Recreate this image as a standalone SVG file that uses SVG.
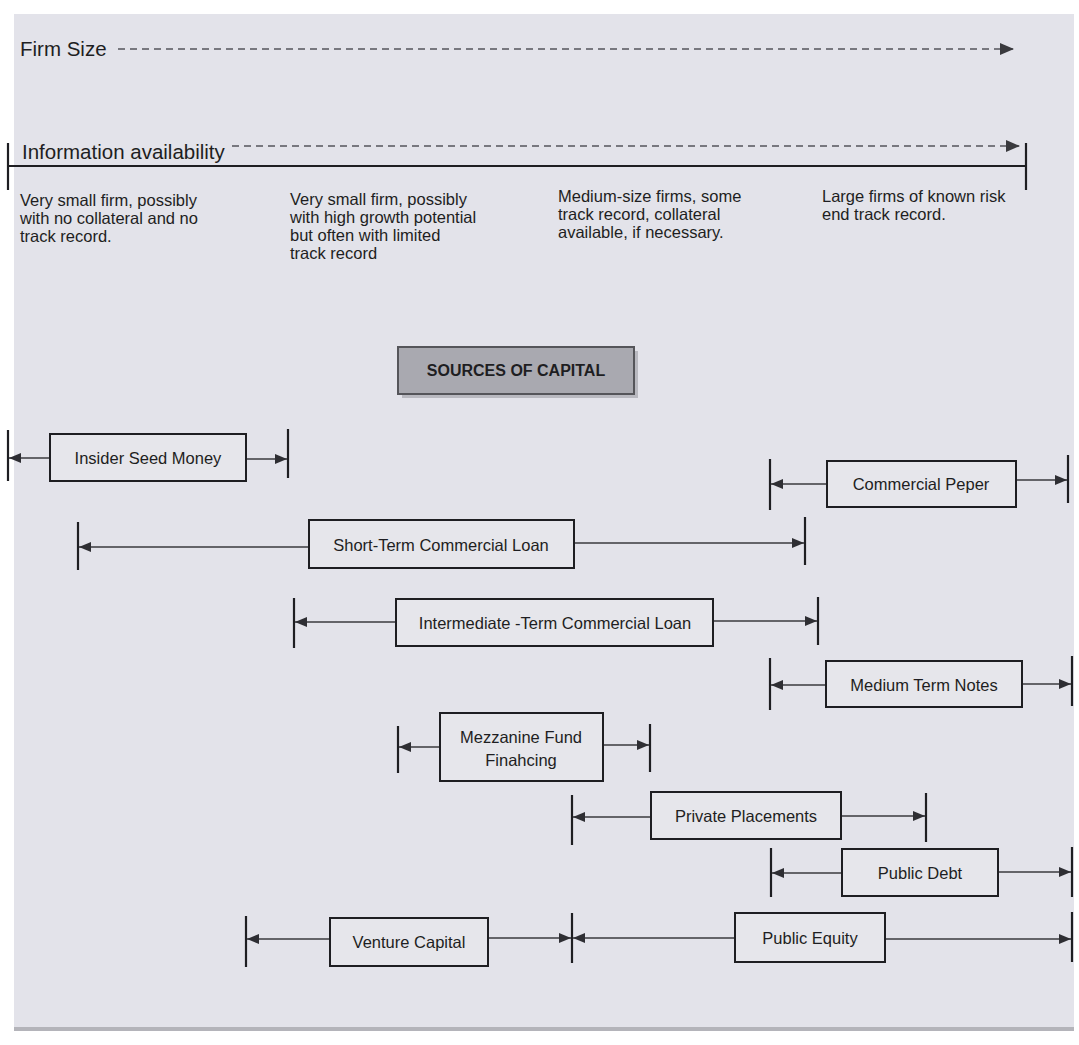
<svg xmlns="http://www.w3.org/2000/svg" width="1079" height="1045" viewBox="0 0 1079 1045">
  <defs>
    <marker id="arrow" viewBox="0 0 12 10" refX="12" refY="5" markerWidth="12" markerHeight="10" markerUnits="userSpaceOnUse" orient="auto">
      <path d="M0,0 L12,5 L0,10 z" fill="#2e2e33"/>
    </marker>
    <marker id="arrow-axis" viewBox="0 0 14 12" refX="14" refY="6" markerWidth="14" markerHeight="12" markerUnits="userSpaceOnUse" orient="auto">
      <path d="M0,0 L14,6 L0,12 z" fill="#3a3a3e"/>
    </marker>
  </defs>
  <style>
    text { font-family: "Liberation Sans", Arial, sans-serif; fill: #1e1e22; }
    .axis-label { font-size: 20.5px; }
    .desc { font-size: 16.5px; }
    .label { font-size: 16.5px; text-anchor: middle; dominant-baseline: central; }
    .title { font-size: 16px; font-weight: bold; text-anchor: middle; dominant-baseline: central; }
    .box { fill: #e6e6eb; stroke: #1e1e22; stroke-width: 2; }
    .shadow { fill: #b9b9c0; }
    .title-box { fill: #a9a9b0; stroke: #55555a; stroke-width: 2; }
    .link { stroke: #3a3a3e; stroke-width: 1.6; fill: none; marker-end: url(#arrow); }
    .tick { stroke: #1e1e22; stroke-width: 2.2; }
    .axis-dash { stroke: #55555c; stroke-width: 1.5; stroke-dasharray: 7 5; fill: none; marker-end: url(#arrow-axis); }
    .axis { stroke: #1e1e22; stroke-width: 2.2; }
  </style>

  <!-- page -->
  <rect x="0" y="0" width="1079" height="1045" fill="#ffffff"/>
  <rect x="14" y="14" width="1060" height="1016" fill="#e3e3ea"/>
  <rect x="14" y="1027" width="1060" height="4" fill="#b4b4ba"/>

  <!-- axes -->
  <g id="axes">
    <text class="axis-label" x="20" y="56">Firm Size</text>
    <line class="axis-dash" x1="118" y1="49" x2="1014" y2="49"/>
    <text class="axis-label" x="22" y="159">Information availability</text>
    <line class="axis-dash" x1="232" y1="146" x2="1020" y2="146"/>
    <line class="axis" x1="8" y1="166" x2="1026" y2="166"/>
    <line class="axis" x1="8" y1="143" x2="8" y2="190"/>
    <line class="axis" x1="1026" y1="143" x2="1026" y2="190"/>
  </g>

  <!-- firm profiles along the axis -->
  <g id="profiles">
    <text class="desc" x="20" y="206">
      <tspan x="20">Very small firm, possibly</tspan>
      <tspan x="20" dy="18">with no collateral and no</tspan>
      <tspan x="20" dy="18">track record.</tspan>
    </text>
    <text class="desc" x="290" y="205">
      <tspan x="290">Very small firm, possibly</tspan>
      <tspan x="290" dy="18">with high growth potential</tspan>
      <tspan x="290" dy="18">but often with limited</tspan>
      <tspan x="290" dy="18">track record</tspan>
    </text>
    <text class="desc" x="558" y="202">
      <tspan x="558">Medium-size firms, some</tspan>
      <tspan x="558" dy="18">track record, collateral</tspan>
      <tspan x="558" dy="18">available, if necessary.</tspan>
    </text>
    <text class="desc" x="822" y="202">
      <tspan x="822">Large firms of known risk</tspan>
      <tspan x="822" dy="18">end track record.</tspan>
    </text>
  </g>

  <!-- connectors: range arrows and end ticks -->
  <g id="connectors">
    <!-- Insider Seed Money -->
    <line class="link" x1="50" y1="458" x2="9" y2="458"/>
    <line class="link" x1="246" y1="459" x2="287" y2="459"/>
    <line class="tick" x1="8" y1="430" x2="8" y2="481"/>
    <line class="tick" x1="288" y1="429" x2="288" y2="478"/>
    <!-- Commercial Peper -->
    <line class="link" x1="827" y1="484" x2="771" y2="484"/>
    <line class="link" x1="1016" y1="480" x2="1067" y2="480"/>
    <line class="tick" x1="770" y1="459" x2="770" y2="510"/>
    <line class="tick" x1="1068" y1="455" x2="1068" y2="503"/>
    <!-- Short-Term Commercial Loan -->
    <line class="link" x1="309" y1="547" x2="79" y2="547"/>
    <line class="link" x1="574" y1="543" x2="804" y2="543"/>
    <line class="tick" x1="78" y1="522" x2="78" y2="570"/>
    <line class="tick" x1="805" y1="517" x2="805" y2="565"/>
    <!-- Intermediate-Term Commercial Loan -->
    <line class="link" x1="396" y1="622" x2="295" y2="622"/>
    <line class="link" x1="713" y1="621" x2="817" y2="621"/>
    <line class="tick" x1="294" y1="598" x2="294" y2="648"/>
    <line class="tick" x1="818" y1="597" x2="818" y2="645"/>
    <!-- Medium Term Notes -->
    <line class="link" x1="826" y1="685" x2="771" y2="685"/>
    <line class="link" x1="1022" y1="684" x2="1071" y2="684"/>
    <line class="tick" x1="770" y1="658" x2="770" y2="710"/>
    <line class="tick" x1="1072" y1="656" x2="1072" y2="706"/>
    <!-- Mezzanine Fund Financing -->
    <line class="link" x1="440" y1="747" x2="399" y2="747"/>
    <line class="link" x1="603" y1="745" x2="649" y2="745"/>
    <line class="tick" x1="398" y1="726" x2="398" y2="773"/>
    <line class="tick" x1="650" y1="724" x2="650" y2="772"/>
    <!-- Private Placements -->
    <line class="link" x1="651" y1="817" x2="573" y2="817"/>
    <line class="link" x1="841" y1="816" x2="925" y2="816"/>
    <line class="tick" x1="572" y1="795" x2="572" y2="845"/>
    <line class="tick" x1="926" y1="793" x2="926" y2="842"/>
    <!-- Public Debt -->
    <line class="link" x1="842" y1="873" x2="772" y2="873"/>
    <line class="link" x1="998" y1="872" x2="1071" y2="872"/>
    <line class="tick" x1="771" y1="848" x2="771" y2="897"/>
    <line class="tick" x1="1072" y1="847" x2="1072" y2="897"/>
    <!-- Venture Capital -->
    <line class="link" x1="330" y1="939" x2="247" y2="939"/>
    <line class="link" x1="488" y1="938" x2="571" y2="938"/>
    <line class="tick" x1="246" y1="916" x2="246" y2="967"/>
    <line class="tick" x1="572" y1="913" x2="572" y2="963"/>
    <!-- Public Equity -->
    <line class="link" x1="735" y1="938" x2="573" y2="938"/>
    <line class="link" x1="885" y1="939" x2="1071" y2="939"/>
    <line class="tick" x1="1072" y1="912" x2="1072" y2="962"/>
  </g>

  <!-- nodes -->
  <g id="sources-of-capital">
    <rect class="shadow" x="402" y="351" width="236" height="47"/>
    <rect class="title-box" x="398" y="347" width="236" height="47"/>
    <text class="title" x="516" y="370">SOURCES OF CAPITAL</text>
  </g>
  <g id="insider-seed-money">
    <rect class="box" x="50" y="434" width="196" height="47"/>
    <text class="label" x="148" y="458">Insider Seed Money</text>
  </g>
  <g id="commercial-paper">
    <rect class="box" x="827" y="461" width="189" height="46"/>
    <text class="label" x="921" y="484">Commercial Peper</text>
  </g>
  <g id="short-term-loan">
    <rect class="box" x="309" y="520" width="265" height="48"/>
    <text class="label" x="441" y="545">Short-Term Commercial Loan</text>
  </g>
  <g id="intermediate-term-loan">
    <rect class="box" x="396" y="599" width="317" height="47"/>
    <text class="label" x="555" y="623">Intermediate -Term Commercial Loan</text>
  </g>
  <g id="medium-term-notes">
    <rect class="box" x="826" y="661" width="196" height="46"/>
    <text class="label" x="924" y="685">Medium Term Notes</text>
  </g>
  <g id="mezzanine-fund">
    <rect class="box" x="440" y="713" width="163" height="68"/>
    <text class="label" x="521" y="737">Mezzanine Fund</text>
    <text class="label" x="521" y="760">Finahcing</text>
  </g>
  <g id="private-placements">
    <rect class="box" x="651" y="792" width="190" height="47"/>
    <text class="label" x="746" y="816">Private Placements</text>
  </g>
  <g id="public-debt">
    <rect class="box" x="842" y="849" width="156" height="47"/>
    <text class="label" x="920" y="873">Public Debt</text>
  </g>
  <g id="venture-capital">
    <rect class="box" x="330" y="918" width="158" height="48"/>
    <text class="label" x="409" y="942">Venture Capital</text>
  </g>
  <g id="public-equity">
    <rect class="box" x="735" y="913" width="150" height="49"/>
    <text class="label" x="810" y="938">Public Equity</text>
  </g>
</svg>
